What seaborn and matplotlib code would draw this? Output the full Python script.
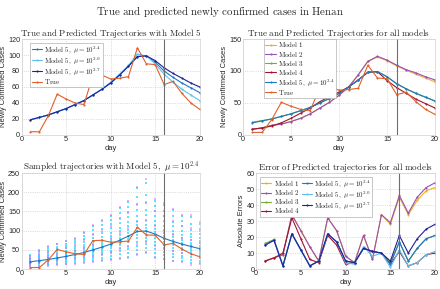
import numpy as np
import pandas as pd
import matplotlib
matplotlib.use("Agg")
import matplotlib.pyplot as plt
import seaborn as sns

# ---- data ----
days = list(range(1, 21))
true_cases = [4, 4, 24, 51, 45, 40, 38, 74, 75, 70, 71, 73, 109, 89, 88, 63, 67, 52, 40, 32]

m5_mu24 = [19, 22, 25, 29, 33, 38, 43, 50, 57, 65, 75, 86, 98, 99, 91, 80, 72, 65, 59, 53]
m5_mu20 = [19, 22, 25, 29, 33, 38, 43, 50, 57, 66, 76, 87, 101, 99, 89, 76, 66, 57, 50, 43]
m5_mu27 = [19, 22, 25, 29, 33, 38, 43, 50, 57, 65, 75, 86, 98, 99, 93, 84, 77, 71, 65, 60]
model1 = [9, 11, 15, 17, 21, 26, 33, 42, 51, 62, 75, 94, 115, 122, 116, 108, 101, 95, 89, 83]
model2 = [9, 11, 15, 17, 21, 26, 33, 42, 51, 62, 75, 94, 115, 123, 117, 109, 102, 97, 91, 86]
model3 = [20, 22.5, 25, 29, 33, 38, 43, 50, 57, 65, 75, 86, 98, 99, 91, 80, 72, 65, 59, 53]
model4 = [9, 11, 14, 19, 26, 34, 42, 52, 60, 67, 75, 86, 98, 99, 85, 74, 65, 56, 49, 42]

err_m1 = [5, 7, 9, 34, 24, 14, 5, 32, 24, 8, 4, 21, 6, 34, 28, 45, 34, 43, 49, 51]
err_m2 = [5, 7, 9, 34, 24, 14, 5, 32, 24, 8, 4, 21, 6, 34, 29, 46, 35, 45, 51, 54]
err_m3 = [16, 18.5, 2, 22, 12, 2, 5, 22, 17, 5, 4, 13, 11, 10, 4, 17, 5, 13, 19, 21]
err_m4 = [5, 7, 10, 32, 19, 6, 4, 21, 15, 3, 4, 13, 11, 10, 3, 11, 2, 4, 9, 10]
err_m5_mu24 = [15, 18, 2, 22, 12, 2, 5, 22, 17, 5, 4, 13, 11, 10, 3, 17, 5, 13, 19, 21]
err_m5_mu20 = [15, 18, 2, 22, 12, 2, 5, 22, 17, 4, 3, 14, 8, 10, 1, 12, 2, 4, 9, 11]
err_m5_mu27 = [15, 18, 2, 22, 12, 2, 5, 22, 17, 5, 4, 13, 11, 10, 5, 21, 10, 19, 25, 28]

# sampled trajectory values per day (cyan and magenta clouds)
cyan_samples = [
    [8, 11, 13, 15, 17, 18, 19, 20, 21, 23, 25, 27, 30, 33, 37],
    [9, 12, 15, 17, 19, 21, 22, 24, 26, 28, 31, 35, 39, 44, 49],
    [11, 14, 17, 20, 22, 24, 26, 28, 30, 33, 36, 41, 46, 52, 58],
    [13, 17, 20, 23, 26, 28, 30, 32, 35, 38, 42, 47, 53, 58, 64],
    [14, 18, 22, 26, 29, 32, 34, 37, 40, 44, 48, 54, 60, 66, 72],
    [16, 21, 25, 29, 33, 36, 39, 42, 46, 50, 55, 61, 67, 73, 79],
    [18, 23, 28, 33, 37, 41, 44, 48, 52, 57, 63, 70, 78, 86, 94],
    [20, 26, 32, 37, 42, 47, 51, 55, 60, 66, 73, 81, 91, 101, 112],
    [24, 30, 36, 42, 48, 53, 58, 63, 69, 76, 84, 93, 104, 114, 124],
    [27, 34, 41, 48, 55, 61, 66, 72, 78, 86, 95, 106, 117, 128, 139],
    [30, 38, 46, 54, 62, 69, 76, 82, 89, 98, 108, 120, 133, 146, 158],
    [32, 42, 52, 61, 70, 78, 86, 93, 101, 111, 122, 135, 149, 162, 174],
    [40, 50, 61, 71, 81, 90, 98, 106, 115, 126, 139, 154, 170, 188, 210],
    [45, 54, 64, 73, 82, 91, 99, 107, 116, 127, 140, 155, 172, 192, 225],
    [32, 42, 52, 62, 71, 80, 88, 96, 104, 114, 125, 138, 151, 165, 178],
    [26, 36, 45, 54, 62, 70, 78, 85, 93, 102, 112, 124, 137, 152, 168],
    [22, 31, 39, 47, 55, 62, 69, 76, 83, 91, 100, 111, 123, 138, 153],
    [20, 28, 35, 42, 49, 56, 62, 68, 75, 82, 90, 100, 111, 125, 138],
    [16, 24, 31, 38, 44, 50, 56, 62, 68, 75, 83, 92, 103, 118, 136],
    [15, 22, 28, 34, 40, 45, 50, 55, 61, 67, 74, 82, 92, 104, 118],
]
magenta_samples = [
    [6, 14, 22, 29, 35], [8, 16, 27, 37, 46], [9, 19, 31, 44, 60], [11, 22, 36, 50, 66],
    [12, 25, 41, 56, 74], [14, 28, 47, 63, 80], [16, 31, 54, 75, 96], [18, 35, 63, 88, 114],
    [20, 40, 72, 100, 127], [24, 45, 82, 113, 142], [27, 52, 94, 130, 162], [29, 58, 106, 146, 178],
    [36, 66, 122, 168, 214], [42, 70, 125, 175, 235], [30, 60, 112, 150, 182], [25, 52, 100, 138, 172],
    [20, 46, 90, 125, 156], [18, 42, 82, 112, 140], [10, 38, 76, 108, 140], [14, 34, 68, 98, 122],
]

# colours
c_true = "#E0602B"
c_m5 = "#1F77C4"
c_m5_light = "#5CC0F0"
c_m5_dark = "#20209A"
c_m1 = "#EDB120"
c_m2 = "#9A4FB5"
c_m3 = "#77AC30"
c_m4 = "#A2142F"

sns.set_theme(style="whitegrid")
plt.rcParams["font.family"] = ["Liberation Sans", "DejaVu Sans"]
plt.rcParams["mathtext.fontset"] = "cm"
plt.rcParams["grid.linestyle"] = ":"
plt.rcParams["grid.color"] = "#c0c0c0"
plt.rcParams["grid.linewidth"] = 0.5
plt.rcParams["axes.edgecolor"] = "#d0d0d0"
plt.rcParams["axes.linewidth"] = 0.5


def tex(s):
    return r"$\mathrm{" + s.replace(" ", r"\ ") + "}$"


def mu_label(p):
    return r"$\mathrm{Model\ 5,}\ \mu = 10^{" + p + "}$"


fig = plt.figure(figsize=(4.4, 2.89), dpi=100)
ax_tl = fig.add_axes([0.049, 0.533, 0.405, 0.332])
ax_tr = fig.add_axes([0.552, 0.533, 0.437, 0.332])
ax_bl = fig.add_axes([0.049, 0.069, 0.405, 0.332])
ax_br = fig.add_axes([0.582, 0.069, 0.407, 0.332])

fig.suptitle(tex("True and predicted newly confirmed cases in Henan"), y=0.985, fontsize=7.9)

lw = 0.8
title_fs = 6.5
lab_fs = 5.4
tick_fs = 5.2


def line(ax, y, color, label=None):
    sns.lineplot(x=days, y=y, ax=ax, color=color, label=label, linewidth=lw,
                 marker="o", markersize=1.5, markeredgewidth=0, legend=False)


# top-left
line(ax_tl, m5_mu24, c_m5, mu_label("2.4"))
line(ax_tl, m5_mu20, c_m5_light, mu_label("2.0"))
line(ax_tl, m5_mu27, c_m5_dark, mu_label("2.7"))
line(ax_tl, true_cases, c_true, tex("True"))
ax_tl.set_ylim(0, 120)
ax_tl.set_yticks(range(0, 121, 20))
ax_tl.set_title(tex("True and Predicted Trajectories with Model 5"), fontsize=title_fs, pad=2)

# top-right
line(ax_tr, model1, c_m1, tex("Model 1"))
line(ax_tr, model2, c_m2, tex("Model 2"))
line(ax_tr, model3, c_m3, tex("Model 3"))
line(ax_tr, model4, c_m4, tex("Model 4"))
line(ax_tr, m5_mu24, c_m5, mu_label("2.4"))
line(ax_tr, true_cases, c_true, tex("True"))
ax_tr.set_ylim(0, 150)
ax_tr.set_yticks([0, 50, 100, 150])
ax_tr.set_title(tex("True and Predicted Trajectories for all models"), fontsize=title_fs, pad=2)

# bottom-left: sampled trajectories
rows = []
for d, cs, mg in zip(days, cyan_samples, magenta_samples):
    rows += [(d, v, "magenta") for v in mg]
    rows += [(d, v, "cyan") for v in cs]
samples = pd.DataFrame(rows, columns=["day", "cases", "group"])
sns.scatterplot(data=samples[samples.group == "cyan"], x="day", y="cases", ax=ax_bl,
                color="#1ad6ff", s=4.5, marker="s", linewidth=0, alpha=0.7, legend=False)
sns.scatterplot(data=samples[samples.group == "magenta"], x="day", y="cases", ax=ax_bl,
                color="#ff55ff", s=3.5, marker="s", linewidth=0, alpha=0.5, legend=False)
line(ax_bl, m5_mu24, c_m5)
line(ax_bl, true_cases, c_true)
ax_bl.set_ylim(0, 250)
ax_bl.set_yticks(range(0, 251, 50))
ax_bl.set_title(r"$\mathrm{Sampled\ trajectories\ with\ Model\ 5,}\ \mu = 10^{2.4}$",
                fontsize=title_fs, pad=2)

# bottom-right: errors
line(ax_br, err_m1, c_m1, tex("Model 1"))
line(ax_br, err_m2, c_m2, tex("Model 2"))
line(ax_br, err_m3, c_m3, tex("Model 3"))
line(ax_br, err_m4, c_m4, tex("Model 4"))
line(ax_br, err_m5_mu24, c_m5, mu_label("2.4"))
line(ax_br, err_m5_mu20, c_m5_light, mu_label("2.0"))
line(ax_br, err_m5_mu27, c_m5_dark, mu_label("2.7"))
ax_br.set_ylim(0, 60)
ax_br.set_yticks(range(0, 61, 10))
ax_br.set_title(tex("Error of Predicted trajectories for all models"), fontsize=title_fs, pad=2)

for ax in (ax_tl, ax_tr, ax_bl, ax_br):
    ax.axvline(16, color="#6e6e6e", linewidth=0.8)
    ax.set_xlim(0, 20)
    ax.set_xticks([0, 5, 10, 15, 20])
    ax.tick_params(labelsize=tick_fs, pad=1, length=0)
    ax.set_xlabel("day", fontsize=lab_fs, labelpad=1)
    ax.set_ylabel("Newly Confirmed Cases", fontsize=lab_fs, labelpad=1)
    for sp in ax.spines.values():
        sp.set_visible(True)
ax_br.set_ylabel("Absolute Errors", fontsize=lab_fs, labelpad=1)

leg_kw = dict(fontsize=5.0, frameon=True, fancybox=False, edgecolor="#b0b0b0",
              framealpha=1, borderpad=0.2, labelspacing=0.02, handlelength=1.5,
              handletextpad=0.3, borderaxespad=0.0)
ax_tl.legend(loc="upper left", bbox_to_anchor=(0.05, 0.96), **leg_kw)
ax_tr.legend(loc="upper left", bbox_to_anchor=(0.11, 1.0), **leg_kw)
ax_br.legend(loc="upper left", bbox_to_anchor=(0.02, 0.96), ncol=2, columnspacing=0.3, **leg_kw)
for lg in (ax_tl.get_legend(), ax_tr.get_legend(), ax_br.get_legend()):
    lg.get_frame().set_linewidth(0.5)

fig.savefig("out.png", dpi=100)
